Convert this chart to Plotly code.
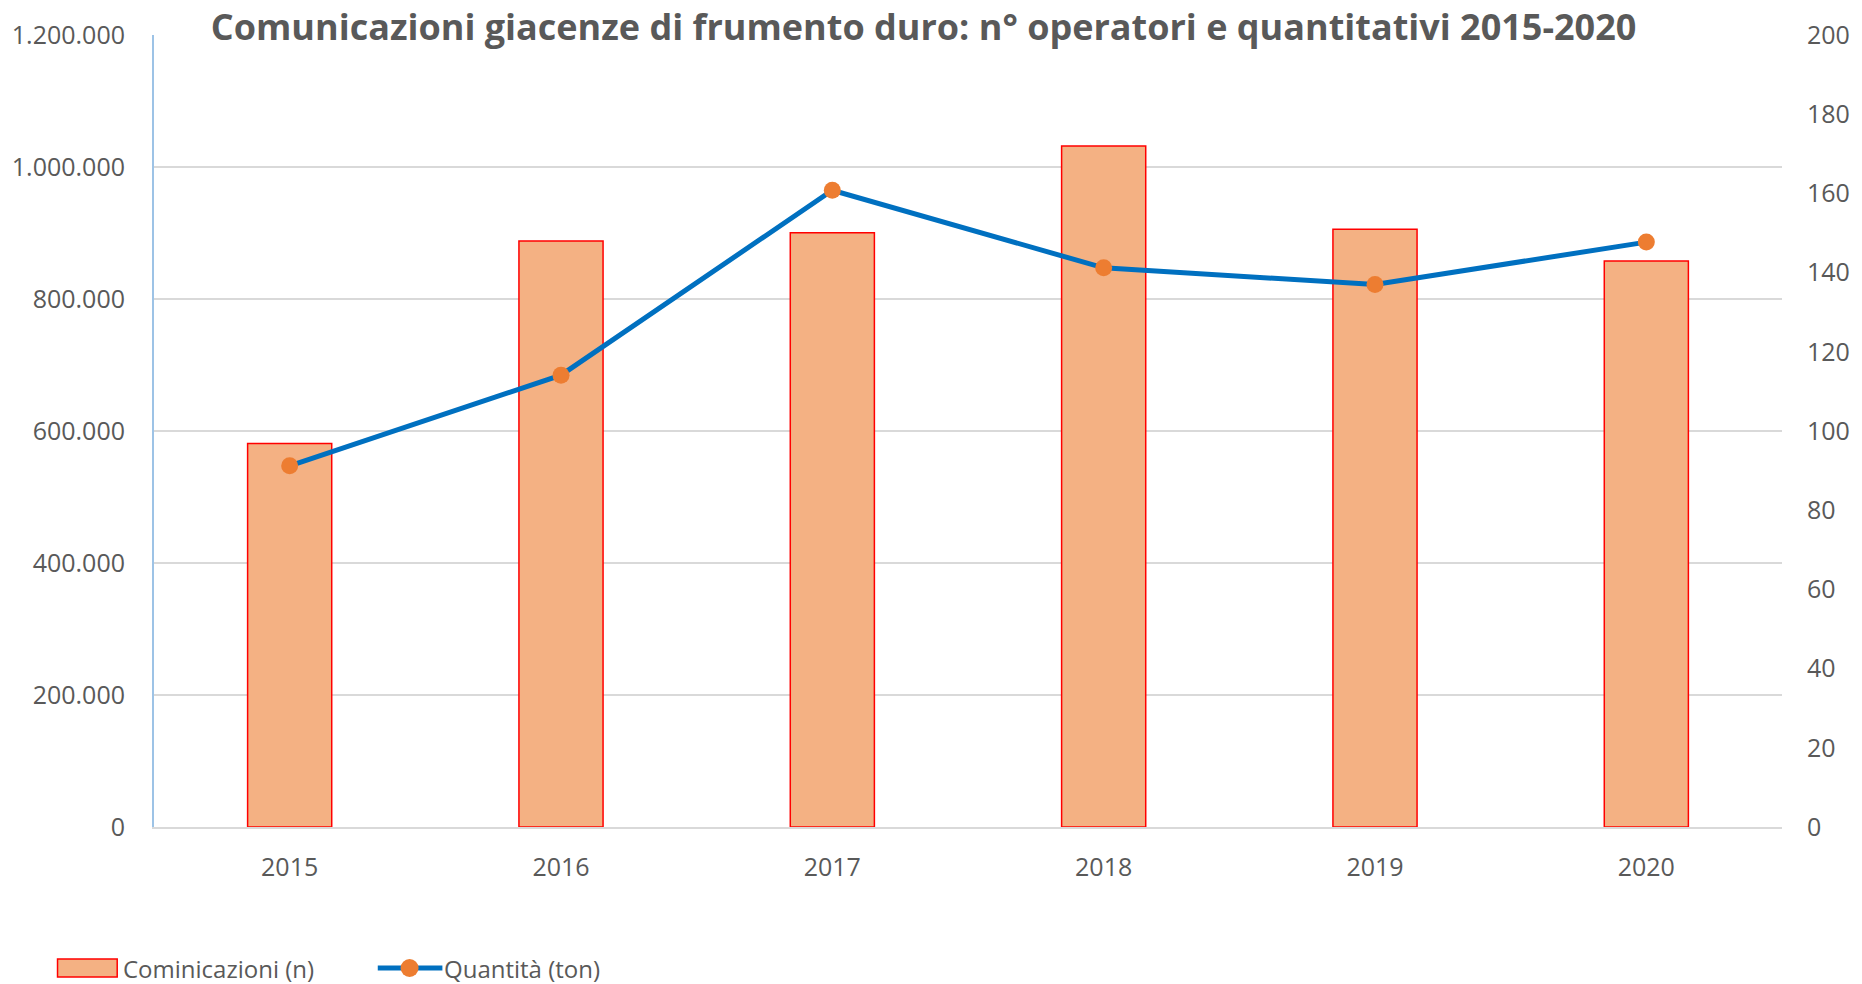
import plotly.graph_objects as go

# ---- data ----
years = ["2015", "2016", "2017", "2018", "2019", "2020"]
comunicazioni = [581000, 888000, 900500, 1031700, 905500, 857500]
quantita = [91.2, 114.1, 160.8, 141.2, 137.0, 147.7]

title_text = "Comunicazioni giacenze di frumento duro: n° operatori e quantitativi 2015-2020"
bar_name = "Cominicazioni (n)"
line_name = "Quantità (ton)"

# ---- layout geometry (px) ----
W, H = 1862, 984
ML, MR, MT, MB = 152, 73, 35, 157
PW = W - ML - MR
PH = H - MT - MB

def px_x(px):
    return (px - ML) / PW

def px_y(py):
    return (H - MB - py) / PH

TXT = "#595959"
FONT = "Open Sans"
BAR_FILL = "#F4B183"
BAR_LINE = "#FF0000"
LINE_C = "#0070C0"
MARK_C = "#ED7D31"

fig = go.Figure()
fig.add_trace(go.Bar(
    x=years, y=comunicazioni, name=bar_name, width=0.31,
    marker=dict(color=BAR_FILL, line=dict(color=BAR_LINE, width=1.5)),
    yaxis="y", showlegend=False,
))
fig.add_trace(go.Scatter(
    x=years, y=quantita, name=line_name, mode="lines+markers",
    line=dict(color=LINE_C, width=5),
    marker=dict(color=MARK_C, size=17, line=dict(width=0)),
    yaxis="y2", showlegend=False,
))

LEG_Y = 968
shapes = []
annotations = []
# custom legend: bar item
shapes.append(dict(type="rect", xref="paper", yref="paper",
                   x0=px_x(55), x1=px_x(115), y0=px_y(LEG_Y + 9), y1=px_y(LEG_Y - 9),
                   fillcolor=BAR_FILL, line=dict(color=BAR_LINE, width=1.5)))
annotations.append(dict(xref="paper", yref="paper", x=px_x(119), y=px_y(LEG_Y),
                        xanchor="left", yanchor="middle", text=bar_name, showarrow=False,
                        font=dict(family=FONT, size=24, color=TXT)))
# custom legend: line item
shapes.append(dict(type="line", xref="paper", yref="paper",
                   x0=px_x(377), x1=px_x(442), y0=px_y(LEG_Y), y1=px_y(LEG_Y),
                   line=dict(color=LINE_C, width=5)))
shapes.append(dict(type="circle", xref="paper", yref="paper",
                   xsizemode="pixel", ysizemode="pixel",
                   xanchor=px_x(409), yanchor=px_y(LEG_Y),
                   x0=-9, x1=9, y0=-9, y1=9,
                   fillcolor=MARK_C, line=dict(width=0)))
annotations.append(dict(xref="paper", yref="paper", x=px_x(442), y=px_y(LEG_Y),
                        xanchor="left", yanchor="middle", text=line_name, showarrow=False,
                        font=dict(family=FONT, size=24, color=TXT)))

fig.update_layout(
    width=W, height=H,
    margin=dict(l=ML, r=MR, t=MT, b=MB, pad=0),
    paper_bgcolor="white", plot_bgcolor="white",
    separators=",.",
    font=dict(family=FONT, size=25, color=TXT),
    title=dict(text="<b>" + title_text + "</b>", x=0.496, xanchor="center",
               y=1 - 27 / H, yanchor="middle", yref="container",
               font=dict(family=FONT, size=36, color=TXT)),
    bargap=0.69,
    xaxis=dict(type="category", range=[-0.5, 5.5], showgrid=False,
               showline=True, linecolor="#D9D9D9", linewidth=1.5,
               ticks="", ticklabelstandoff=17,
               tickfont=dict(family=FONT, size=25, color=TXT), fixedrange=True),
    yaxis=dict(range=[0, 1200000], dtick=200000, tickformat=",d",
               showgrid=True, gridcolor="#D9D9D9", gridwidth=1.5,
               showline=True, linecolor="#9DC3E6", linewidth=2,
               zeroline=False, ticks="", ticklabelstandoff=22,
               tickfont=dict(family=FONT, size=25, color=TXT)),
    yaxis2=dict(range=[0, 200], dtick=20, overlaying="y", side="right",
                showgrid=False, showline=False, zeroline=False,
                ticks="", ticklabelstandoff=24,
                tickfont=dict(family=FONT, size=25, color=TXT)),
    shapes=shapes, annotations=annotations,
)

fig.write_html("out.html", config={"displayModeBar": False},
               post_script="document.body.style.margin='0';document.body.style.padding='0';")
